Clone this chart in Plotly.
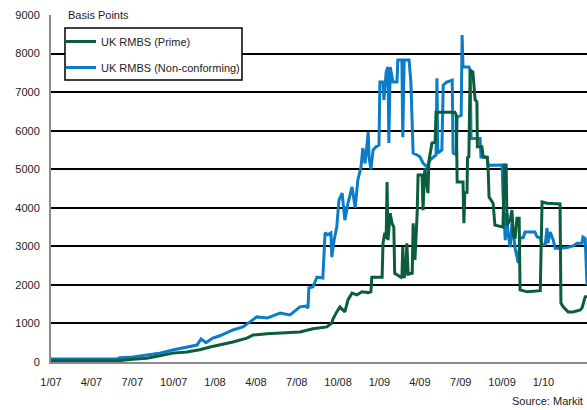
import plotly.graph_objects as go

# ---- Data ----
nc_dates = ["2007-01-01","2007-05-28","2007-06-03","2007-06-26","2007-08-02","2007-08-31","2007-09-29",
            "2007-10-22","2007-11-22","2007-12-01","2007-12-12","2007-12-27","2008-01-12","2008-02-10",
            "2008-03-03","2008-03-19","2008-04-03","2008-04-26","2008-05-25","2008-06-16","2008-07-08",
            "2008-07-21","2008-07-26","2008-07-28","2008-08-06","2008-08-15","2008-08-28","2008-09-02",
            "2008-09-08","2008-09-15","2008-09-17","2008-09-22","2008-09-28","2008-10-03","2008-10-10",
            "2008-10-16","2008-10-23","2008-11-01","2008-11-08","2008-11-14","2008-11-21","2008-11-25",
            "2008-11-30","2008-12-04","2008-12-07","2008-12-09","2008-12-13","2008-12-18","2008-12-24",
            "2008-12-31","2009-01-02","2009-01-09","2009-01-11","2009-01-16","2009-01-20","2009-01-22",
            "2009-01-25","2009-01-29","2009-01-31","2009-02-09","2009-02-11","2009-02-20","2009-02-22",
            "2009-02-25","2009-03-08","2009-03-12","2009-03-17","2009-03-26","2009-04-01","2009-04-08",
            "2009-04-17","2009-04-24","2009-04-30","2009-05-07","2009-05-09","2009-05-11","2009-05-20",
            "2009-05-23","2009-05-31","2009-06-12","2009-06-14","2009-06-21","2009-06-23","2009-07-02",
            "2009-07-04","2009-07-06","2009-07-19","2009-07-22","2009-07-24","2009-08-13","2009-08-15",
            "2009-08-29","2009-08-31","2009-10-01","2009-10-03","2009-10-08","2009-10-12","2009-10-14",
            "2009-10-19","2009-10-23","2009-10-30","2009-11-06","2009-11-10","2009-11-17","2009-11-21",
            "2009-12-13","2009-12-18","2009-12-25","2009-12-29","2010-01-05","2010-01-09","2010-01-11",
            "2010-01-16","2010-01-23","2010-01-27","2010-02-07","2010-02-23","2010-03-08","2010-03-17",
            "2010-03-28","2010-03-30","2010-04-04","2010-04-08"]
nc_values = [80,80,110,120,180,230,310,
             360,440,600,500,620,680,830,
             910,1040,1170,1140,1270,1220,1430,
             1450,1400,1920,1950,2200,2180,3350,
             3300,3350,2720,3160,3500,4200,4380,
             3680,4120,4540,4000,4720,5060,5550,
             5150,5600,5960,5300,5000,5500,5580,
             5630,7260,7260,6800,7520,7650,5680,
             7650,7400,7260,7260,7830,7830,5830,
             7830,7830,7260,5420,5370,5320,5160,
             5060,5240,5300,5370,7360,5420,5500,
             7180,7260,7310,5420,5380,6350,6400,
             8480,7650,7650,7570,5800,5800,5320,
             5320,5100,5110,4380,3160,3860,3350,
             2980,3600,2950,2570,3220,3220,3370,
             3370,3240,3220,3030,3050,3470,3080,
             3370,3160,2950,2950,2970,3010,3080,
             3080,3240,3200,2000]

pr_dates = ["2007-01-01","2007-05-28","2007-07-02","2007-08-02","2007-08-31","2007-09-29","2007-10-30",
            "2007-11-28","2007-12-21","2008-01-12","2008-02-10","2008-03-12","2008-03-26","2008-04-26",
            "2008-05-31","2008-07-08","2008-08-06","2008-09-06","2008-09-17","2008-09-19","2008-09-28",
            "2008-10-05","2008-10-16","2008-10-23","2008-11-01","2008-11-12","2008-11-23","2008-12-07",
            "2008-12-13","2008-12-15","2009-01-07","2009-01-09","2009-01-13","2009-01-16","2009-01-18",
            "2009-01-20","2009-01-25","2009-01-29","2009-02-02","2009-02-04","2009-02-11","2009-02-20",
            "2009-02-22","2009-02-25","2009-03-01","2009-03-03","2009-03-06","2009-03-15","2009-03-17",
            "2009-03-21","2009-03-26","2009-03-28","2009-04-06","2009-04-08","2009-04-12","2009-04-19",
            "2009-04-21","2009-04-28","2009-05-05","2009-05-07","2009-06-18","2009-06-21","2009-06-23",
            "2009-07-06","2009-07-08","2009-07-10","2009-07-15","2009-07-16","2009-07-19","2009-07-22",
            "2009-07-28","2009-08-02","2009-08-06","2009-08-07","2009-08-17","2009-08-20","2009-08-29",
            "2009-08-31","2009-09-02","2009-09-11","2009-09-15","2009-10-03","2009-10-06","2009-10-10",
            "2009-10-12","2009-10-19","2009-10-23","2009-10-26","2009-10-30","2009-11-03","2009-11-08",
            "2009-11-10","2009-11-26","2009-12-25","2009-12-29","2010-01-09","2010-02-07","2010-02-09",
            "2010-02-14","2010-02-25","2010-03-08","2010-03-24","2010-03-28","2010-04-04","2010-04-08"]
pr_values = [30,30,70,100,160,230,260,
             320,390,440,520,620,700,730,
             750,780,860,910,1010,1100,1300,
             1430,1300,1610,1790,1740,1820,1800,
             1820,2200,2200,3080,3350,3200,4670,
             3160,3860,3600,3500,2300,2250,2180,
             2980,2180,2400,3080,2280,2300,3600,
             2650,3860,4850,4850,3940,5030,4380,
             5200,5680,5700,6480,6480,6400,4670,
             4670,3600,4380,4400,5300,5320,7570,
             7520,6800,6750,5580,5580,5320,5300,
             4980,4280,4120,3550,3500,5110,5110,
             3550,3680,3940,3300,3200,3730,3730,
             1870,1820,1850,4150,4120,4100,1530,
             1430,1300,1300,1350,1400,1690,1700]

tick_dates = ["2007-01-01","2007-04-01","2007-07-01","2007-10-01","2008-01-01","2008-04-01","2008-07-01",
              "2008-10-01","2009-01-01","2009-04-01","2009-07-01","2009-10-01","2010-01-01"]
tick_labels = ["1/07","4/07","7/07","10/07","1/08","4/08","7/08","10/08","1/09","4/09","7/09","10/09","1/10"]
y_ticks = [0,1000,2000,3000,4000,5000,6000,7000,8000,9000]

GREEN = "#0B5E3B"
BLUE = "#0A7DC6"
FONT = "Arial, Liberation Sans, sans-serif"

fig = go.Figure()
fig.add_trace(go.Scatter(x=nc_dates, y=nc_values, mode="lines", name="UK RMBS (Non-conforming)",
                         line=dict(color=BLUE, width=3), legendrank=2, legendgroup="b"))
fig.add_trace(go.Scatter(x=pr_dates, y=pr_values, mode="lines", name="UK RMBS (Prime)",
                         line=dict(color=GREEN, width=3), legendrank=1, legendgroup="a"))

fig.update_layout(
    width=587, height=410,
    margin=dict(l=51, r=0, t=15, b=48),
    paper_bgcolor="white", plot_bgcolor="white",
    font=dict(family=FONT, size=11, color="#222"),
    showlegend=True,
    legend=dict(x=0.0187, y=0.9654, xanchor="left", yanchor="top",
                bgcolor="rgba(0,0,0,0)", borderwidth=0,
                traceorder="grouped", tracegroupgap=7,
                font=dict(family=FONT, size=11, color="#222")),
    xaxis=dict(type="date", range=["2007-01-01", "2010-04-08"],
               tickvals=tick_dates, ticktext=tick_labels,
               showgrid=False, showline=True, linecolor="#8a8a8a", linewidth=2,
               ticks="outside", ticklen=9, tickcolor="rgba(0,0,0,0)",
               zeroline=False),
    yaxis=dict(range=[0, 9000], tickvals=y_ticks,
               showgrid=True, gridcolor="black", gridwidth=2,
               showline=True, linecolor="#8a8a8a", linewidth=2,
               ticks="outside", ticklen=7, tickcolor="rgba(0,0,0,0)",
               zeroline=False),
    shapes=[
        dict(type="rect", xref="paper", yref="paper", x0=0.0261, x1=0.3563, y0=0.8127, y1=0.9625,
             fillcolor="white", line=dict(color="black", width=1.5), layer="above"),
    ],
    annotations=[
        dict(text="Basis Points", xref="paper", yref="paper", x=0.022, y=1.0,
             xanchor="left", yanchor="middle", showarrow=False, bgcolor="white",
             borderpad=4, font=dict(family=FONT, size=11, color="#222")),
        dict(text="Source: Markit", xref="paper", yref="paper", x=0.9963, y=-0.112,
             xanchor="right", yanchor="middle", showarrow=False,
             font=dict(family=FONT, size=11, color="#222")),
    ],
)

fig.write_html("out.html", config={"displayModeBar": False},
               post_script="document.body.style.margin='0';document.body.style.overflow='hidden';")
